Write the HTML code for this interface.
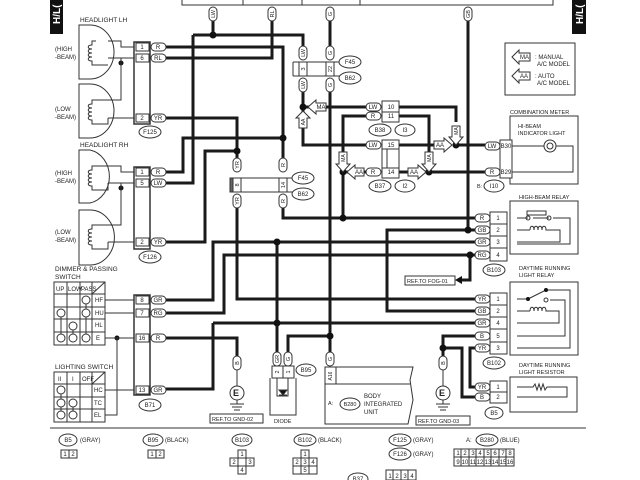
<!DOCTYPE html>
<html><head><meta charset="utf-8"><style>
html,body{margin:0;padding:0;background:#fff;}
svg{display:block;font-family:"Liberation Sans",sans-serif;}
.w{stroke:#1a1a1a;stroke-width:3;fill:none;}
.t{stroke:#333;stroke-width:1;fill:none;}
.g{stroke:#333;stroke-width:1;fill:#fff;}
text{fill:#222;font-size:6px;}
.l{font-size:6.5px;}
.c{text-anchor:middle;}
.r text{text-anchor:middle;font-size:5.5px;}
</style></head><body>
<svg width="640" height="480" viewBox="0 0 640 480" xmlns="http://www.w3.org/2000/svg">
<path class="t" d="M182 0 V5 H553 V0 M243 0V5 M302 0V5 M360 0V5"/>
<rect x="50" y="0" width="13" height="34" fill="#111"/>
<text x="60" y="24" transform="rotate(-90 60 24)" style="fill:#fff;font-size:10px;font-weight:bold">H/L(</text>
<rect x="572" y="0" width="14" height="34" fill="#111"/>
<text x="583" y="24" transform="rotate(-90 583 24)" style="fill:#fff;font-size:10px;font-weight:bold">H/L(</text>

<g class="w">
<path d="M166 47 H283 V165 M283 205 V218 H505"/>
<path d="M283 138 H183 V172 H166"/>
<path d="M166 58 H272 V20"/>
<path d="M213 20 V35 M193 35 H303 V48 M193 35 V183 H166"/>
<path d="M303 90 V115 M303 128 V145 H366"/>
<path d="M330 20 V48 M330 90 V352"/>
<path d="M468 20 V230 H505 M468 230 H387 V311 H505"/>
<path d="M166 118 H237 V160 M237 205 V299 H505"/>
<path d="M237 151 H205 V242 H166"/>
<path d="M166 300 H213 V242 H505"/>
<path d="M166 313 H224 V255 H505"/>
<path d="M470 255 V280 H460"/>
<path d="M213 323 V389 H166 M213 323 H505"/>
<path d="M277 242 V352"/>
<path d="M166 338 H237 V357"/>
<path d="M288 352 V336 H330"/>
<path d="M505 336 H443 V358 M443 348 H462 V397 H505"/>
<path d="M505 348 H470 V387 H505"/>
<path d="M316 107 H366 M398 107 H456 V122"/>
<path d="M366 116 H343 V152 M398 116 H429 V160"/>
<path d="M398 145 H438 M456 145 H485"/>
<path d="M343 172 V218 M343 172 H350 M361 172 H366 M398 172 H410 M422 172 H485"/>
<path d="M303 107 H312"/>
</g>
<g fill="#111">
<circle cx="213" cy="35" r="3.5"/><circle cx="283" cy="138" r="3.5"/><circle cx="237" cy="151" r="3.5"/>
<circle cx="303" cy="107" r="3.5"/><circle cx="456" cy="145" r="3.5"/><circle cx="343" cy="172" r="3.5"/>
<circle cx="429" cy="172" r="3.5"/><circle cx="343" cy="218" r="3.5"/><circle cx="468" cy="230" r="3.5"/>
<circle cx="277" cy="242" r="3.5"/><circle cx="470" cy="255" r="3.5"/><circle cx="277" cy="323" r="3.5"/>
<circle cx="330" cy="336" r="3.5"/><circle cx="443" cy="348" r="3.5"/><circle cx="117" cy="338" r="2.5"/>
<circle cx="121" cy="63" r="2.5"/><circle cx="121" cy="188" r="2.5"/>
<path d="M455 280 L462 276 V284Z"/>
</g>

<g class="t">
<path d="M79 25 H90 A24 27 0 0 1 90 79 H79Z M79 84 H90 A24 27 0 0 1 90 138 H79Z"/>
<path d="M79 150 H90 A24 27 0 0 1 90 203 H79Z M79 210 H90 A24 27 0 0 1 90 265 H79Z"/>
<path d="M108 41 H121 V47 H134 M108 58 H134 M121 58 V100 H108 M108 118 H134"/>
<path d="M108 166 H121 V172 H134 M108 183 H134 M121 183 V225 H108 M108 242 H134"/>
<rect x="134" y="42" width="16" height="82" fill="none" stroke-width="1.5"/>
<rect x="134" y="167" width="16" height="82" fill="none" stroke-width="1.5"/>
<path d="M96 41 H92 V45 c-5 0 -5 4 0 4 c-5 0 -5 4 0 4 c-5 0 -5 4 0 4 c-5 0 -5 4 0 4 V65 H108"/>
<path d="M108 100 H92 V104 c-5 0 -5 4 0 4 c-5 0 -5 4 0 4 c-5 0 -5 4 0 4 c-5 0 -5 4 0 4 V124 H108 V118"/>
<path d="M108 166 H92 V170 c-5 0 -5 4 0 4 c-5 0 -5 4 0 4 c-5 0 -5 4 0 4 c-5 0 -5 4 0 4 V190 H108 V183"/>
<path d="M108 225 H92 V229 c-5 0 -5 4 0 4 c-5 0 -5 4 0 4 c-5 0 -5 4 0 4 c-5 0 -5 4 0 4 V249 H108 V242"/>
</g>
<text class="l" x="80" y="22">HEADLIGHT LH</text>
<text class="l" x="80" y="147">HEADLIGHT RH</text>
<text x="55" y="51">(HIGH</text><text x="55" y="59">-BEAM)</text>
<text x="55" y="111">(LOW</text><text x="55" y="119">-BEAM)</text>
<text x="55" y="175">(HIGH</text><text x="55" y="183">-BEAM)</text>
<text x="55" y="234">(LOW</text><text x="55" y="242">-BEAM)</text>

<g class="g">
<rect x="136" y="43" width="13" height="8"/><rect x="136" y="54" width="13" height="8"/><rect x="136" y="114" width="13" height="8"/>
<rect x="136" y="168" width="13" height="8"/><rect x="136" y="179" width="13" height="8"/><rect x="136" y="238" width="13" height="8"/>
<rect x="151" y="43" width="15" height="8" rx="4"/><rect x="151" y="54" width="15" height="8" rx="4"/><rect x="151" y="114" width="15" height="8" rx="4"/>
<rect x="151" y="168" width="15" height="8" rx="4"/><rect x="151" y="179" width="15" height="8" rx="4"/><rect x="151" y="238" width="15" height="8" rx="4"/>
<ellipse cx="150" cy="132" rx="11" ry="6"/><ellipse cx="150" cy="257" rx="11" ry="6"/>
</g>
<g class="c">
<text x="142" y="49">1</text><text x="142" y="60">6</text><text x="142" y="120">2</text>
<text x="142" y="174">1</text><text x="142" y="185">5</text><text x="142" y="244">2</text>
<text x="158" y="49">R</text><text x="158" y="60">RL</text><text x="158" y="120">YR</text>
<text x="158" y="174">R</text><text x="158" y="185">LW</text><text x="158" y="244">YR</text>
<text x="150" y="134">F125</text><text x="150" y="259">F126</text>
</g>

<g class="g">
<rect x="209" y="7" width="8" height="14" rx="4"/><rect x="268" y="7" width="8" height="14" rx="4"/>
<rect x="326" y="7" width="8" height="14" rx="4"/><rect x="464" y="7" width="8" height="14" rx="4"/>
<rect x="299" y="46" width="8" height="14" rx="4"/><rect x="299" y="78" width="8" height="14" rx="4"/>
<rect x="326" y="46" width="8" height="14" rx="4"/><rect x="326" y="78" width="8" height="14" rx="4"/>
<rect x="233" y="158" width="8" height="14" rx="4"/><rect x="233" y="194" width="8" height="14" rx="4"/>
<rect x="279" y="158" width="8" height="14" rx="4"/><rect x="279" y="194" width="8" height="14" rx="4"/>
<rect x="233" y="356" width="8" height="14" rx="4"/><rect x="273" y="352" width="8" height="14" rx="4"/>
<rect x="284" y="352" width="8" height="14" rx="4"/><rect x="326" y="352" width="8" height="14" rx="4"/>
<rect x="439" y="356" width="8" height="14" rx="4"/>
</g>
<g class="r">
<text x="213" y="16" transform="rotate(-90 213 14)">LW</text>
<text x="272" y="16" transform="rotate(-90 272 14)">RL</text>
<text x="330" y="16" transform="rotate(-90 330 14)">G</text>
<text x="468" y="16" transform="rotate(-90 468 14)">GB</text>
<text x="303" y="55" transform="rotate(-90 303 53)">LW</text>
<text x="303" y="87" transform="rotate(-90 303 85)">LW</text>
<text x="330" y="55" transform="rotate(-90 330 53)">G</text>
<text x="330" y="87" transform="rotate(-90 330 85)">G</text>
<text x="237" y="167" transform="rotate(-90 237 165)">YR</text>
<text x="237" y="203" transform="rotate(-90 237 201)">YR</text>
<text x="283" y="167" transform="rotate(-90 283 165)">R</text>
<text x="283" y="203" transform="rotate(-90 283 201)">R</text>
<text x="237" y="365" transform="rotate(-90 237 363)">B</text>
<text x="277" y="361" transform="rotate(-90 277 359)">GR</text>
<text x="288" y="361" transform="rotate(-90 288 359)">G</text>
<text x="330" y="361" transform="rotate(-90 330 359)">G</text>
<text x="443" y="365" transform="rotate(-90 443 363)">B</text>
<text x="303" y="71" transform="rotate(-90 303 69)">3</text>
<text x="330" y="71" transform="rotate(-90 330 69)">22</text>
<text x="237" y="187" transform="rotate(-90 237 185)">8</text>
<text x="283" y="187" transform="rotate(-90 283 185)">14</text>
<text x="277" y="374" transform="rotate(-90 277 372)">2</text>
<text x="288" y="374" transform="rotate(-90 288 372)">1</text>
<text x="330" y="378" transform="rotate(-90 330 376)" style="font-size:5px">A16</text>
</g>
<g class="t">
<path d="M293 62 H345 M293 76 H345 M293 62 V76 M299 62V76 M307 62V76 M326 62V76 M334 62V76"/>
<path d="M230 178 H298 M230 192 H298 M230 178 V192 M233 178V192 M241 178V192 M279 178V192 M287 178V192"/>
<rect x="230" y="178" width="3" height="14" fill="#666"/>
</g>
<g class="g"><ellipse cx="350" cy="62" rx="11" ry="6"/><ellipse cx="350" cy="78" rx="11" ry="6"/>
<ellipse cx="303" cy="178" rx="11" ry="6"/><ellipse cx="303" cy="194" rx="11" ry="6"/></g>
<g class="c"><text x="350" y="64">F45</text><text x="350" y="80">B62</text><text x="303" y="180">F45</text><text x="303" y="196">B62</text></g>

<g class="g">
<path d="M308 107 L316 100 V103 H326 V111 H316 V114Z"/>
<path d="M303 111 L296 118 H299 V128 H307 V118 H310Z"/>
<path d="M456 145 L449 137 H452 V126 H460 V137 H463Z"/>
<path d="M343 172 L336 164 H339 V152 H347 V164 H350Z"/>
<path d="M429 172 L422 164 H425 V152 H433 V164 H436Z"/>
<path d="M452 145 L444 138 V141 H434 V149 H444 V152Z"/>
<path d="M347 172 L355 165 V168 H364 V176 H355 V179Z"/>
<path d="M426 172 L418 165 V168 H408 V176 H418 V179Z"/>
</g>
<g class="r">
<text x="303" y="124" transform="rotate(-90 303 122)" style="font-size:5px">AA</text>
<text x="456" y="133" transform="rotate(-90 456 131)" style="font-size:5px">MA</text>
<text x="343" y="160" transform="rotate(-90 343 158)" style="font-size:5px">MA</text>
<text x="429" y="160" transform="rotate(-90 429 158)" style="font-size:5px">MA</text>
</g>
<g style="font-size:5px" class="c">
<text x="321" y="109">MA</text><text x="440" y="147">AA</text>
<text x="359" y="174">AA</text><text x="414" y="174">AA</text>
</g>
<g class="g">
<rect x="366" y="103" width="15" height="8" rx="4"/><rect x="366" y="112" width="15" height="8" rx="4"/>
<rect x="366" y="141" width="15" height="8" rx="4"/><rect x="366" y="168" width="15" height="8" rx="4"/>
<rect x="382" y="101" width="17" height="21"/><rect x="382" y="140" width="17" height="38"/>
<ellipse cx="380" cy="130" rx="11" ry="6"/><ellipse cx="405" cy="130" rx="10" ry="6"/>
<ellipse cx="380" cy="186" rx="11" ry="6"/><ellipse cx="405" cy="186" rx="10" ry="6"/>
</g>
<path class="t" d="M382 112 H399 M382 149 H399 M382 168 H399 M387 149 V168"/>
<g class="c">
<text x="373" y="109">LW</text><text x="373" y="118">R</text><text x="373" y="147">LW</text><text x="373" y="174">R</text>
<text x="391" y="109">10</text><text x="391" y="118">11</text><text x="391" y="147">15</text><text x="391" y="174">14</text>
<text x="380" y="132">B38</text><text x="405" y="132">I3</text><text x="380" y="188">B37</text><text x="405" y="188">I2</text>
</g>

<rect class="t" x="505" y="43" width="70" height="52"/>
<g class="g"><path d="M512 57 L519 50 V53 H530 V61 H519 V64Z"/><path d="M512 76 L519 69 V72 H530 V80 H519 V83Z"/></g>
<g style="font-size:5.5px"><text x="520" y="59">MA</text><text x="520" y="78">AA</text>
<text x="535" y="59">: MANUAL</text><text x="537" y="66">A/C MODEL</text>
<text x="535" y="78">: AUTO</text><text x="537" y="85">A/C MODEL</text></g>

<text style="font-size:5.5px" x="510" y="114">COMBINATION METER</text>
<rect class="t" x="510" y="116" width="68" height="68"/>
<text style="font-size:5.5px" x="518" y="128">HI-BEAM</text><text style="font-size:5.5px" x="518" y="135">INDICATOR LIGHT</text>
<path class="t" d="M510 146 H544 M556 146 H573 V172 H510"/>
<circle class="t" cx="550" cy="146" r="6"/><circle class="t" cx="550" cy="146" r="3"/>
<g class="g"><rect x="485" y="142" width="15" height="8" rx="4"/><rect x="485" y="168" width="15" height="8" rx="4"/>
<rect x="500" y="140" width="12" height="38"/><ellipse cx="494" cy="186" rx="10" ry="6"/></g>
<g class="c" style="font-size:5.5px"><text x="492" y="148">LW</text><text x="492" y="174">R</text><text x="506" y="148">B30</text><text x="506" y="174">B29</text><text x="494" y="188">I10</text></g>
<text x="477" y="188" style="font-size:5.5px">B:</text>

<text style="font-size:5.5px" x="519" y="199">HIGH-BEAM RELAY</text>
<rect class="t" x="510" y="201" width="68" height="53"/>
<path class="t" d="M517 218 H528 M533 218 H549 M553 218 H570 V244 H517 M517 230 H530 M548 230 H560 V242 H517 M527 211 H546 V215 H527Z"/>
<circle class="t" cx="528" cy="218" r="2"/><circle class="t" cx="549" cy="218" r="2"/>
<path class="t" d="M530 230 c0-5 4-5 4 0 c0-5 4-5 4 0 c0-5 4-5 4 0 c0-5 4-5 4 0 h2"/>
<text style="font-size:5.5px" x="519" y="270">DAYTIME RUNNING</text><text style="font-size:5.5px" x="519" y="277">LIGHT RELAY</text>
<rect class="t" x="510" y="282" width="68" height="73"/>
<path class="t" d="M517 299 H528 M528 299 L546 290 M546 290 H570 V348 H517 M550 300 H565 V336 H517 M517 311 H530 M548 311 H559 V323 H517"/>
<circle cx="528" cy="299" r="2" fill="#111"/><circle cx="546" cy="290" r="2" fill="#111"/><circle class="g" cx="546" cy="300" r="2"/>
<path class="t" d="M530 311 c0-5 4-5 4 0 c0-5 4-5 4 0 c0-5 4-5 4 0 c0-5 4-5 4 0 h2"/>
<text style="font-size:5.5px" x="519" y="367">DAYTIME RUNNING</text><text style="font-size:5.5px" x="519" y="374">LIGHT RESISTOR</text>
<rect class="t" x="510" y="377" width="67" height="35"/>
<path class="t" d="M517 387 H533 l2-3 2 6 2-6 2 6 2-6 2 6 2-3 H567 V397 H517"/>

<g class="g">
<rect x="475" y="214" width="15" height="8" rx="4"/><rect x="475" y="226" width="15" height="8" rx="4"/>
<rect x="475" y="238" width="15" height="8" rx="4"/><rect x="475" y="251" width="15" height="8" rx="4"/>
<rect x="490" y="212" width="17" height="49"/>
<rect x="475" y="295" width="15" height="8" rx="4"/><rect x="475" y="307" width="15" height="8" rx="4"/>
<rect x="475" y="319" width="15" height="8" rx="4"/><rect x="475" y="332" width="15" height="8" rx="4"/>
<rect x="475" y="344" width="15" height="8" rx="4"/><rect x="490" y="293" width="17" height="61"/>
<rect x="475" y="383" width="15" height="8" rx="4"/><rect x="475" y="393" width="15" height="8" rx="4"/>
<rect x="490" y="381" width="17" height="22"/>
<ellipse cx="494" cy="270" rx="11" ry="6"/><ellipse cx="494" cy="363" rx="11" ry="6"/><ellipse cx="494" cy="413" rx="9" ry="6"/>
</g>
<path class="t" d="M490 224 H507 M490 236 H507 M490 248 H507 M490 305 H507 M490 317 H507 M490 329 H507 M490 342 H507 M490 392 H507"/>
<g class="c">
<text x="482" y="220">R</text><text x="482" y="232">GB</text><text x="482" y="244">GR</text><text x="482" y="257">RG</text>
<text x="498" y="220">1</text><text x="498" y="232">2</text><text x="498" y="244">3</text><text x="498" y="257">4</text>
<text x="482" y="301">YR</text><text x="482" y="313">GB</text><text x="482" y="325">GR</text><text x="482" y="338">B</text><text x="482" y="350">YR</text>
<text x="498" y="301">1</text><text x="498" y="313">2</text><text x="498" y="325">4</text><text x="498" y="338">5</text><text x="498" y="350">3</text>
<text x="482" y="389">YR</text><text x="482" y="399">B</text><text x="498" y="389">1</text><text x="498" y="399">2</text>
<text x="494" y="272">B103</text><text x="494" y="365">B102</text><text x="494" y="415">B5</text>
</g>
<rect class="g" x="405" y="276" width="50" height="9"/><text x="407" y="283" style="font-size:5.5px">REF.TO FOG-01</text>

<text class="l" x="55" y="271">DIMMER &amp; PASSING</text><text class="l" x="55" y="279">SWITCH</text>
<g class="t">
<rect x="54" y="282" width="51" height="63"/>
<path d="M54 294 H105 M54 307 H105 M54 319 H105 M54 332 H105 M67 282V345 M80 282V345 M92 282V345 M92 294 L105 282"/>
<path d="M105 300 H134 M105 313 H134 M105 338 H134 M105 390 H134 M117 338 V415 H105"/>
<rect x="54" y="372" width="51" height="50"/>
<path d="M54 384 H105 M54 397 H105 M54 409 H105 M67 372V422 M80 372V422 M92 372V422 M92 384 L105 372"/>
<rect x="134" y="295" width="16" height="100" stroke-width="1.5"/>
<path d="M86 300V338 M61 313V338 M73 326V338 M61 390V415 M73 403V415"/>
</g>
<g class="g">
<circle cx="86" cy="300" r="4"/><circle cx="86" cy="313" r="4"/><circle cx="61" cy="313" r="4"/>
<circle cx="73" cy="326" r="4"/><circle cx="61" cy="338" r="4"/><circle cx="73" cy="338" r="4"/><circle cx="86" cy="338" r="4"/>
<circle cx="61" cy="390" r="4"/><circle cx="61" cy="403" r="4"/><circle cx="73" cy="403" r="4"/><circle cx="61" cy="415" r="4"/><circle cx="73" cy="415" r="4"/>
</g>
<g style="font-size:5px">
<text x="56" y="291">UP</text><text x="68" y="291">LOW</text><text x="81" y="291">PASS</text>
<text x="95" y="302">HF</text><text x="95" y="315">HU</text><text x="95" y="327">HL</text><text x="96" y="340">E</text>
<text x="58" y="381">II</text><text x="72" y="381">I</text><text x="82" y="381">OFF</text>
<text x="94" y="392">HC</text><text x="94" y="405">TC</text><text x="94" y="417">EL</text>
</g>
<text class="l" x="55" y="369">LIGHTING SWITCH</text>
<g class="g">
<rect x="136" y="296" width="13" height="8"/><rect x="136" y="309" width="13" height="8"/><rect x="136" y="334" width="13" height="8"/><rect x="136" y="386" width="13" height="8"/>
<rect x="151" y="296" width="15" height="8" rx="4"/><rect x="151" y="309" width="15" height="8" rx="4"/><rect x="151" y="334" width="15" height="8" rx="4"/><rect x="151" y="386" width="15" height="8" rx="4"/>
<ellipse cx="150" cy="405" rx="11" ry="6"/>
</g>
<g class="c"><text x="142" y="302">8</text><text x="142" y="315">7</text><text x="142" y="340">16</text><text x="142" y="392">13</text>
<text x="158" y="302">GR</text><text x="158" y="315">RG</text><text x="158" y="340">R</text><text x="158" y="392">GR</text><text x="150" y="407">B71</text></g>

<g class="t"><circle cx="237" cy="393" r="7"/><path d="M237 370 V386 M237 400 V404 M230 404 H244 M232 407 H242 M234 410 H240"/>
<circle cx="443" cy="393" r="7"/><path d="M443 370 V386 M443 400 V404 M436 404 H450 M438 407 H448 M440 410 H446"/></g>
<text x="233" y="396" style="font-size:9px;font-weight:bold">E</text><text x="439" y="396" style="font-size:9px;font-weight:bold">E</text>
<rect class="g" x="210" y="414" width="53" height="9"/><text x="212" y="421" style="font-size:5.5px">REF.TO GND-02</text>
<rect class="g" x="416" y="416" width="54" height="9"/><text x="418" y="423" style="font-size:5.5px">REF.TO GND-03</text>

<g class="t"><rect x="272" y="366" width="22" height="12"/><path d="M283 366 V378 M270 378 V415 H296 V378 M277 378 V396 H288 V378"/>
<path d="M279 390 H287 L283 395 Z M279 395 H287" fill="#111"/></g>
<ellipse class="g" cx="306" cy="370" rx="10" ry="6"/><text class="c" x="306" y="372">B95</text>
<text x="274" y="423" style="font-size:5.5px">DIODE</text>

<path class="t" d="M325 367 H413 L410 380 L413 400 L408 424 H325Z M325 384 H410 M336 367 V384"/>
<text x="328" y="405" style="font-size:5.5px">A:</text>
<ellipse class="g" cx="350" cy="404" rx="10" ry="6"/><text class="c" x="350" y="406" style="font-size:5.5px">B280</text>
<g style="font-size:5.5px"><text x="364" y="398">BODY</text><text x="364" y="406">INTEGRATED</text><text x="364" y="414">UNIT</text></g>

<path class="t" d="M50 428 H586"/>
<g class="g">
<ellipse cx="68" cy="440" rx="9" ry="6"/><ellipse cx="153" cy="440" rx="10" ry="6"/><ellipse cx="242" cy="440" rx="10" ry="6"/>
<ellipse cx="305" cy="440" rx="11" ry="6"/><ellipse cx="400" cy="440" rx="11" ry="6"/><ellipse cx="400" cy="454" rx="11" ry="6"/>
<ellipse cx="487" cy="440" rx="11" ry="6"/><ellipse cx="358" cy="479" rx="10" ry="6"/>
</g>
<g class="c" style="font-size:5.5px"><text x="68" y="442">B5</text><text x="153" y="442">B95</text><text x="242" y="442">B103</text><text x="305" y="442">B102</text>
<text x="400" y="442">F125</text><text x="400" y="456">F126</text><text x="487" y="442">B280</text><text x="358" y="481">B37</text></g>
<g style="font-size:5.5px"><text x="80" y="442">(GRAY)</text><text x="165" y="442">(BLACK)</text><text x="318" y="442">(BLACK)</text>
<text x="413" y="442">(GRAY)</text><text x="413" y="456">(GRAY)</text><text x="466" y="442">A:</text><text x="500" y="442">(BLUE)</text></g>
<g class="t">
<rect x="61" y="450" width="16" height="8"/><path d="M69 450V458"/>
<rect x="148" y="450" width="16" height="8"/><path d="M156 450V458"/>
<rect x="238" y="450" width="8" height="8"/><rect x="230" y="458" width="24" height="8"/><rect x="238" y="466" width="8" height="8"/>
<path d="M238 458V474 M246 458V474 M230 466 H254"/>
<rect x="301" y="450" width="8" height="8"/><rect x="293" y="458" width="24" height="16"/><path d="M301 458V474 M309 458V474 M293 466H317"/>
<rect x="454" y="449" width="60" height="17"/><path d="M454 457H514 M461 449V466 M469 449V466 M476 449V466 M484 449V466 M491 449V466 M499 449V466 M506 449V466"/>
<rect x="386" y="470" width="30" height="10"/><path d="M393 470V480 M401 470V480 M408 470V480"/>
</g>
<g style="font-size:5px" class="c">
<text x="65" y="456">1</text><text x="73" y="456">2</text><text x="152" y="456">1</text><text x="160" y="456">2</text>
<text x="242" y="456">1</text><text x="234" y="464">2</text><text x="250" y="464">3</text><text x="242" y="472">4</text>
<text x="305" y="456">1</text><text x="297" y="464">2</text><text x="305" y="464">3</text><text x="313" y="464">4</text><text x="305" y="472">5</text>
<text x="458" y="455">1</text><text x="465" y="455">2</text><text x="473" y="455">3</text><text x="480" y="455">4</text><text x="488" y="455">5</text><text x="495" y="455">6</text><text x="503" y="455">7</text><text x="510" y="455">8</text>
<text x="458" y="464">9</text><text x="465" y="464">10</text><text x="473" y="464">11</text><text x="480" y="464">12</text><text x="488" y="464">13</text><text x="495" y="464">14</text><text x="503" y="464">15</text><text x="510" y="464">16</text>
<text x="390" y="478">1</text><text x="397" y="478">2</text><text x="405" y="478">3</text><text x="412" y="478">4</text>
</g>
</svg>
</body></html>
